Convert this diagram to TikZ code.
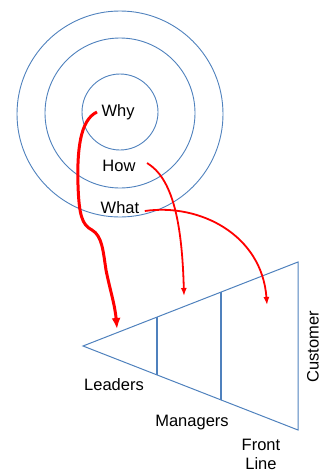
\documentclass[tikz,border=0pt]{standalone}
\usepackage{fontspec}
\setmainfont{Liberation Sans}
\usetikzlibrary{arrows.meta,calc}
\definecolor{ringblue}{RGB}{79,129,189}
\begin{document}
\begin{tikzpicture}[x=1pt,y=-1pt,font=\fontsize{16.5}{19}\selectfont]
			\useasboundingbox (0,0) rectangle (327,474);
			% rings
			\draw[ringblue, line width=0.9pt] (120,114) circle[radius=103];
			\draw[ringblue, line width=0.9pt] (120,113) circle[radius=75];
			\draw[ringblue, line width=0.9pt] (120,112) circle[radius=38];
			\node (why) at (118,112) {Why};
			\node (how) at (119,166) {How};
			\node (what) at (120,208) {What};
			% triangle
			\coordinate (apex) at (83,346);
			\coordinate (tr) at (298,262);
			\coordinate (br) at (298,430);
			\draw[ringblue, line width=1pt] (apex)--(tr)--(br)--cycle;
			\draw[ringblue, line width=1.6pt] ($(apex)!0.344!(tr)$)--($(apex)!0.344!(br)$);
			\draw[ringblue, line width=1.6pt] ($(apex)!0.642!(tr)$)--($(apex)!0.642!(br)$);
			\node (leaders) at (114,385) {Leaders};
			\node (managers) at (192,423) {Managers};
			\node[align=center, inner sep=1pt] (front) at (261,454) {Front\\Line};
			\node[rotate=90] (customer) at (313,347) {Customer};
			% arrows
			\coordinate (leadTip) at (117,329);
			\coordinate (manTip) at (184,296);
			\coordinate (frontTip) at (267,305);
			\draw[-{Latex[length=11pt,width=9pt]}, line width=3pt, red] ([xshift=-1pt]why.west) .. controls (80,120) and (77,150) .. (78,185) .. controls (79,215) and (82,225) .. (92,230) .. controls (102,236) and (103,250) .. (106,270) .. controls (110,290) and (115,305) .. (leadTip);
			\draw[-{Latex[length=8pt,width=6pt]}, line width=1.8pt, red] ([xshift=8pt,yshift=3pt]how.east) .. controls (172,178) and (182,220) .. (manTip);
			\draw[-{Latex[length=8pt,width=6pt]}, line width=1.8pt, red] ([xshift=2pt,yshift=-3pt]what.east) .. controls (200,203) and (262,235) .. (frontTip);
		\end{tikzpicture}
\end{document}
